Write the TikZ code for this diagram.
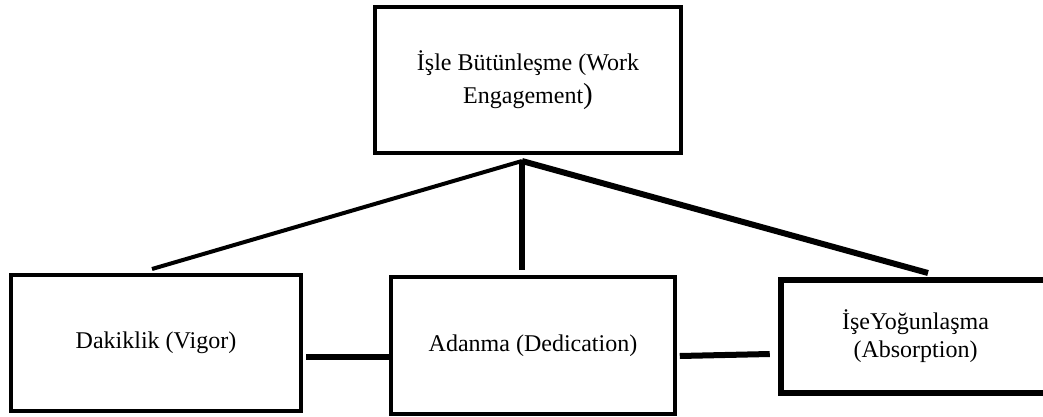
\documentclass[tikz,border=0pt]{standalone}
\usepackage{fontspec}
\setmainfont{Liberation Serif}
\usetikzlibrary{calc}
\begin{document}
\begin{tikzpicture}[x=1pt,y=1pt,
  box/.style={draw=black, rectangle, inner sep=0pt, align=center,
    font=\fontsize{24}{33}\selectfont},
  link/.style={draw=black, line cap=butt}]
\useasboundingbox (0,0) rectangle (1043,416);
\node[box, line width=4pt, minimum width=306pt, minimum height=146pt] (top) at (528,336)
  {İşle Bütünleşme (Work\\Engagement{\fontsize{29}{33}\selectfont)}};
\node[box, line width=4pt, minimum width=290pt, minimum height=136pt] (vigor) at (156,73)
  {Dakiklik (Vigor)};
\node[box, line width=3.5pt, minimum width=284pt, minimum height=137pt] (ded) at (533,70.5)
  {Adanma (Dedication)};
\node[box, line width=6.5pt, minimum width=269pt, minimum height=113pt,
  font=\fontsize{24}{28}\selectfont] (abs) at (915.5,79.5)
  {İşeYoğunlaşma\\(Absorption)};
% connector end points
\coordinate (hub) at (522,255);
\coordinate (vtop) at (152,147);
\coordinate (dtop) at (522,146);
\coordinate (atop) at (928,143);
\coordinate (vr) at ($(vigor.east)+(3,-14)$);
\coordinate (dl) at ($(ded.west)+(0,-11.5)$);
\coordinate (dr) at ($(ded.east)+(3,-10.5)$);
\coordinate (al) at ($(abs.west)+(-8,-17.5)$);
\draw[link, line width=4pt] (hub) -- (vtop);
\draw[link, line width=5.5pt] (hub) -- (dtop);
\draw[link, line width=6pt] (hub) -- (atop);
\draw[link, line width=5.5pt] (vr) -- (dl);
\draw[link, line width=6pt] (dr) -- (al);
\end{tikzpicture}
\end{document}
